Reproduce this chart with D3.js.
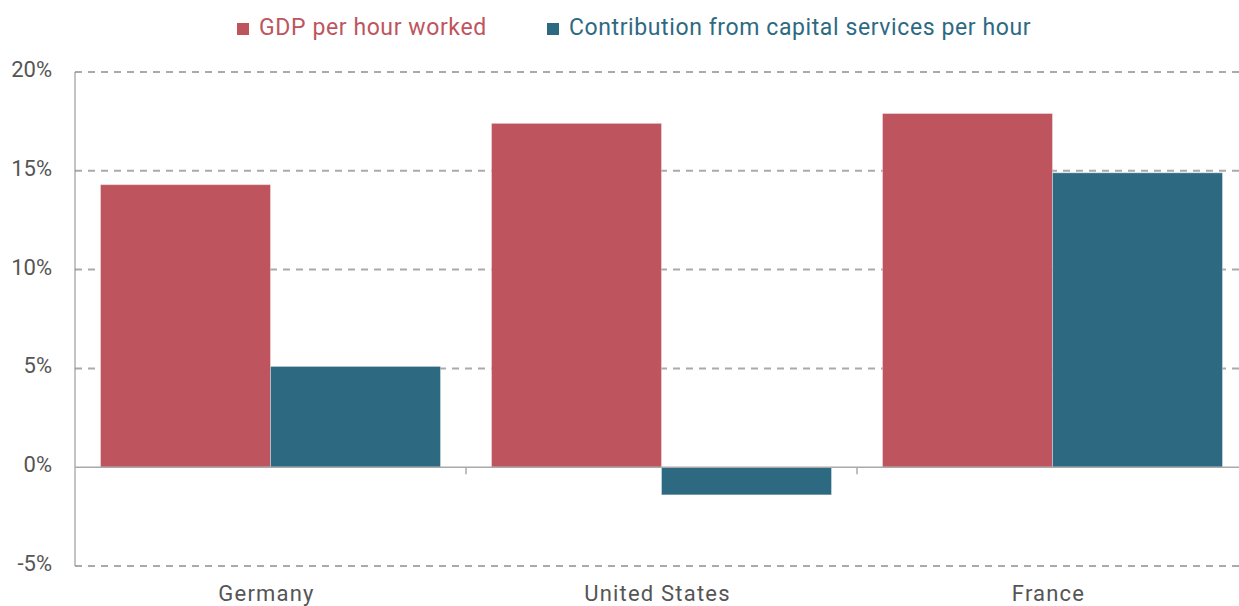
<!DOCTYPE html>
<html>
<head>
<meta charset="utf-8">
<script src="https://cdn.jsdelivr.net/npm/d3@7"></script>
<style>
  body { margin: 0; background: #fff; }
  text { font-family: Roboto, "Noto Sans", sans-serif; }
  .grid line { stroke: #aaa; stroke-width: 2; stroke-dasharray: 7,6; }
</style>
</head>
<body>
<div id="vis"></div>
<script>
// chart data
var countries = ["Germany", "United States", "France"],
    seriesNames = ["GDP per hour worked", "Contribution from capital services per hour"],
    gdpPerHour = [14.3, 17.4, 17.9],
    capitalPerHour = [5.1, -1.4, 14.9],
    yTicks = [-5, 0, 5, 10, 15, 20],
    colors = ["#be555e", "#2d6a82"];

var w = 1239,
    h = 606,
    mLeft = 75,
    mRight = 1248,
    mTop = 72,
    mBottom = 566,
    tick_len = 7;

var x = d3.scaleBand().domain(countries).range([mLeft, mRight]).paddingInner(0).paddingOuter(0);
var xs = d3.scaleBand().domain(d3.range(2)).range([0, x.bandwidth()]).paddingOuter(0.15).paddingInner(0);
var y = d3.scaleLinear().domain([-5, 20]).range([mBottom, mTop]);

var svg = d3.select("#vis").append("svg")
            .attr("width", w)
            .attr("height", h);

// gridlines (dashed)
svg.append("g").attr("class", "grid")
   .selectAll("line")
   .data(yTicks.filter(function(d) { return d != 0; }))
   .enter().append("line")
   .attr("x1", mLeft)
   .attr("x2", mRight)
   .attr("y1", function(d) { return y(d); })
   .attr("y2", function(d) { return y(d); });

// y labels
svg.selectAll(".yLabel")
   .data(yTicks)
   .enter().append("text")
   .attr("class", "yLabel")
   .attr("x", 52)
   .attr("y", function(d) { return y(d); })
   .attr("dy", 5)
   .attr("text-anchor", "end")
   .attr("fill", "#555")
   .style("font-size", "22px")
   .text(function(d) { return d + "%"; });

// bars
var rows = countries.map(function(c, i) {
    return { country: c, vals: [gdpPerHour[i], capitalPerHour[i]] };
});

var groups = svg.selectAll(".country")
   .data(rows)
   .enter().append("g")
   .attr("transform", function(d) { return "translate(" + x(d.country) + ",0)"; });

groups.selectAll("rect")
   .data(function(d) { return d.vals; })
   .enter().append("rect")
   .attr("x", function(d, i) { return xs(i); })
   .attr("width", xs.bandwidth())
   .attr("y", function(d) { return y(Math.max(0, d)); })
   .attr("height", function(d) { return Math.abs(y(d) - y(0)); })
   .attr("fill", function(d, i) { return colors[i]; })
   .attr("stroke", "rgba(255,255,255,0.35)")
   .attr("stroke-width", 1);

// y axis line
svg.append("line")
   .attr("x1", mLeft).attr("x2", mLeft)
   .attr("y1", mTop).attr("y2", mBottom)
   .attr("stroke", "#888").attr("stroke-width", 1);

// zero line
svg.append("line")
   .attr("x1", mLeft).attr("x2", mRight)
   .attr("y1", y(0)).attr("y2", y(0))
   .attr("stroke", "#aaa").attr("stroke-width", 1.5);

// x ticks between bands
svg.selectAll(".xTick")
   .data(countries.slice(1))
   .enter().append("line")
   .attr("x1", function(d) { return x(d); })
   .attr("x2", function(d) { return x(d); })
   .attr("y1", y(0))
   .attr("y2", y(0) + tick_len)
   .attr("stroke", "#aaa").attr("stroke-width", 1.5);

// x labels
svg.selectAll(".xLabel")
   .data(countries)
   .enter().append("text")
   .attr("x", function(d) { return x(d) + x.bandwidth() / 2 - 4; })
   .attr("y", 601)
   .attr("text-anchor", "middle")
   .attr("fill", "#555")
   .style("font-size", "22px")
   .style("letter-spacing", "1.2px")
   .text(function(d) { return d; });

// legend
var legendX = [237, 547];
var legend = svg.selectAll(".legend")
   .data(seriesNames)
   .enter().append("g")
   .attr("transform", function(d, i) { return "translate(" + legendX[i] + ",0)"; });

legend.append("rect")
   .attr("x", 0).attr("y", 23)
   .attr("width", 12).attr("height", 12)
   .attr("fill", function(d, i) { return colors[i]; });

legend.append("text")
   .attr("x", 22)
   .attr("y", 35)
   .attr("fill", function(d, i) { return colors[i]; })
   .style("font-size", "23px")
   .style("letter-spacing", "0.6px")
   .text(function(d) { return d; });
</script>
</body>
</html>
